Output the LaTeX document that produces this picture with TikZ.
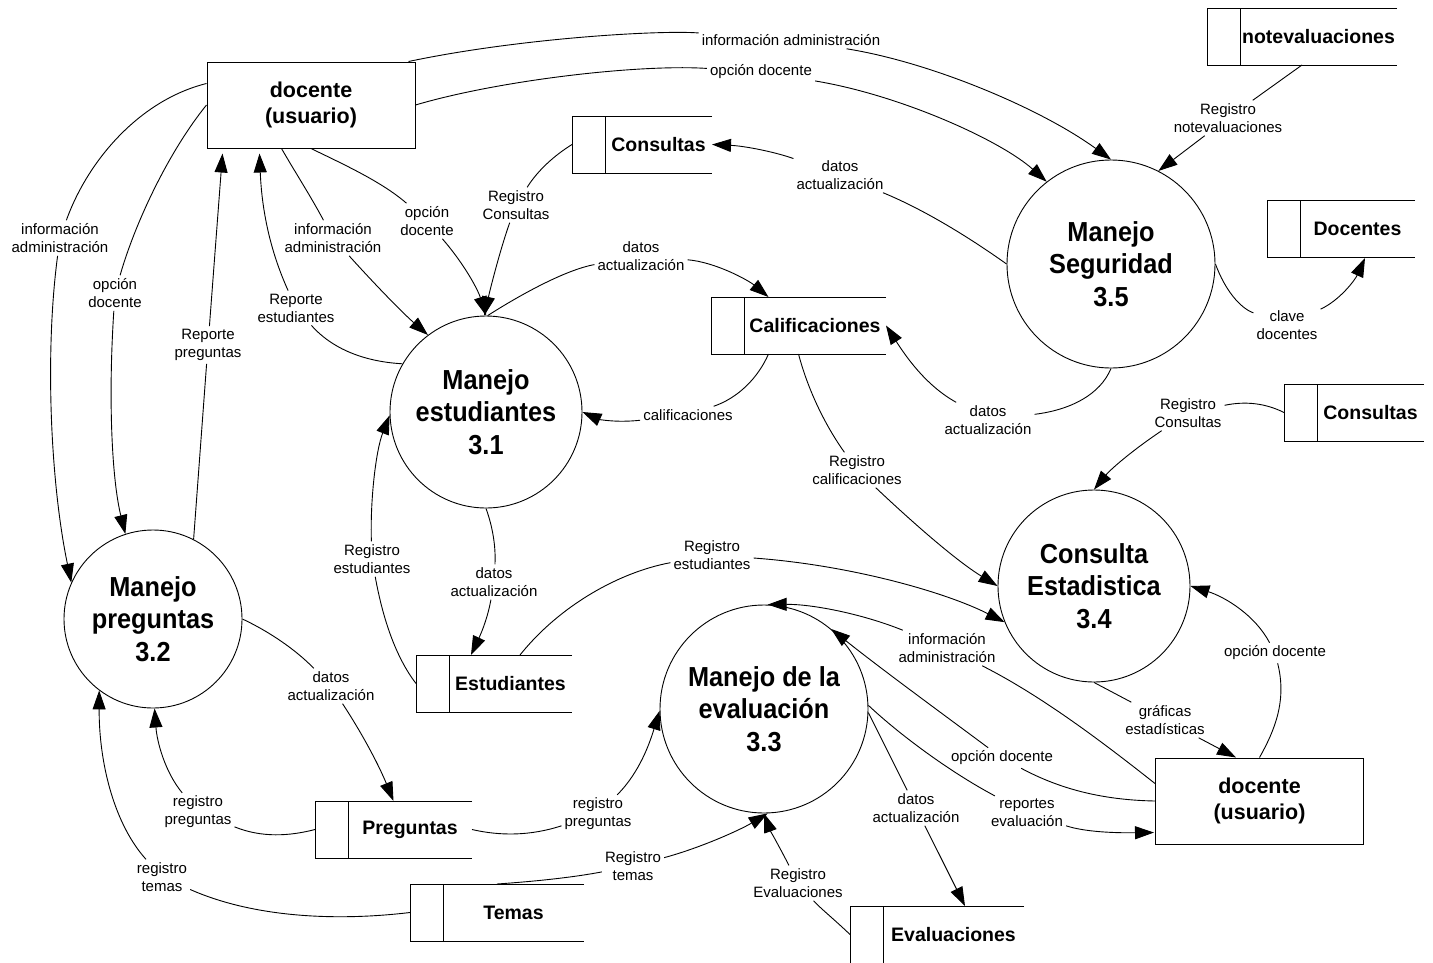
\documentclass[tikz,border=0pt]{standalone}
\usepackage{fontspec}
\setmainfont{Liberation Sans}
\newfontfamily\procfont[FakeStretch=0.92]{Liberation Sans}
\usetikzlibrary{arrows.meta,calc}

% data store: open-ended box with a divider, text right of the divider
% #1 name, #2 left x, #3 top y, #4 width, #5 text
\newcommand\dfdstore[5]{%
  \node[storebox,minimum width=#4pt] (#1) at ({#2+#4/2},{#3+28.5}) {};
  \draw[storeline] (#1.north east) -- (#1.north west) -- (#1.south west) -- (#1.south east);
  \draw[storeline] ($(#1.north west)+(33,0)$) -- ($(#1.south west)+(33,0)$);
  \node[storetext] (#1t) at ($(#1.center)+(16.5,0)$) {#5};
}

\begin{document}
\begin{tikzpicture}[x=1pt,y=-1pt,
  flow/.style={draw=black,line width=0.9pt},
  arr/.style={flow,-{Triangle[length=19pt,width=13pt]}},
  proc/.style={circle,draw=black,line width=0.9pt,inner sep=0pt,align=center,
    font=\procfont\bfseries\fontsize{27.5}{32.5}\selectfont},
  ext/.style={rectangle,draw=black,line width=1pt,minimum width=208pt,minimum height=86pt,
    inner sep=0pt,align=center,font=\bfseries\fontsize{21.5}{26.7}\selectfont},
  storebox/.style={rectangle,inner sep=0pt,outer sep=0pt,minimum height=57pt},
  storeline/.style={draw=black,line width=1pt},
  storetext/.style={font=\bfseries\fontsize{19.5}{23}\selectfont,inner sep=0pt},
  lbl/.style={align=center,inner sep=3pt,font=\fontsize{15}{18}\selectfont}]

\fill[white] (0,0) rectangle (1433,962);
\useasboundingbox (0,0) rectangle (1433,962);

% processes
\node[proc,minimum size=192pt] (c31) at (486,412) {Manejo\\estudiantes\\3.1};
\node[proc,minimum size=178pt] (c32) at (153,619) {Manejo\\preguntas\\3.2};
\node[proc,minimum size=208pt] (c33) at (764,709) {Manejo de la\\evaluación\\3.3};
\node[proc,minimum size=192pt] (c34) at (1094,586) {Consulta\\Estadistica\\3.4};
\node[proc,minimum size=208pt] (c35) at (1111,264) {Manejo\\Seguridad\\3.5};

% external entities
\node[ext] (d1) at (311,105) {docente\\(usuario)};
\node[ext] (d2) at (1259.5,801) {docente\\(usuario)};

% data stores
\dfdstore{cons1}{572}{116}{140}{Consultas}
\dfdstore{calif}{711}{297}{175}{Calificaciones}
\dfdstore{nev}{1207}{8}{190}{notevaluaciones}
\dfdstore{docs}{1267}{200}{148}{Docentes}
\dfdstore{cons2}{1284}{384}{140}{Consultas}
\dfdstore{est}{416}{655}{156}{Estudiantes}
\dfdstore{pregs}{315}{801}{157}{Preguntas}
\dfdstore{temas}{410}{884}{174}{Temas}
\dfdstore{eval}{850}{906}{174}{Evaluaciones}

% flow labels
\node[lbl] (l1) at (791,40) {información administración};
\node[lbl] (l2) at (761,72) {opción docente};
\node[lbl] (l3) at (840,175) {datos\\actualización};
\node[lbl] (l4) at (1228,118) {Registro\\notevaluaciones};
\node[lbl] (l5) at (1287,325) {clave\\docentes};
\node[lbl] (l6) at (988,420) {datos\\actualización};
\node[lbl] (l7) at (516,205) {Registro\\Consultas};
\node[lbl] (l8) at (641,256) {datos\\actualización};
\node[lbl] (l9) at (688,415) {calificaciones};
\node[lbl] (l10) at (857,470) {Registro\\calificaciones};
\node[lbl] (l11) at (1188,413) {Registro\\Consultas};
\node[lbl] (l12) at (1275,653) {opción docente};
\node[lbl] (l13) at (1165,720) {gráficas\\estadísticas};
\node[lbl] (l14) at (712,555) {Registro\\estudiantes};
\node[lbl] (l15) at (947,648) {información\\administración};
\node[lbl] (l16) at (1002,758) {opción docente};
\node[lbl] (l17) at (1027,813) {reportes\\evaluación};
\node[lbl] (l18) at (916,808) {datos\\actualización};
\node[lbl] (l19) at (798,883) {Registro\\Evaluaciones};
\node[lbl] (l20) at (633,866) {Registro\\temas};
\node[lbl] (l21) at (598,814) {registro\\preguntas};
\node[lbl] (l22) at (198,812) {registro\\preguntas};
\node[lbl] (l23) at (162,877) {registro\\temas};
\node[lbl] (l24) at (331,686) {datos\\actualización};
\node[lbl] (l25) at (372,559) {Registro\\estudiantes};
\node[lbl] (l26) at (494,582) {datos\\actualización};
\node[lbl] (l27) at (208,345) {Reporte\\preguntas};
\node[lbl] (l28) at (296,308) {Reporte\\estudiantes};
\node[lbl] (l29) at (333,238) {información\\administración};
\node[lbl] (l30) at (427,221) {opción\\docente};
\node[lbl] (l31) at (60,238) {información\\administración};
\node[lbl] (l32) at (115,293) {opción\\docente};

% flows into Manejo Seguridad and its stores
\draw[flow] ($(d1.north east)+(-7,0)$) .. controls (520,38) and (660,30) .. (l1);
\draw[arr] (l1) .. controls (930,62) and (1040,108) .. (c35.90);
\draw[flow] (d1.east) .. controls (500,80) and (640,64) .. (l2);
\draw[arr] (l2) .. controls (900,95) and (1000,140) .. (c35.128);
\draw[flow] (c35.180) .. controls (970,238) and (925,210) .. (l3);
\draw[arr] (l3) .. controls (775,152) and (745,146) .. (cons1.east);
\draw[flow] (nev.south) -- (l4);
\draw[arr] (l4) -- (c35.63);
\draw[flow] (c35.0) .. controls (1225,290) and (1240,308) .. (l5);
\draw[arr] (l5) .. controls (1340,300) and (1355,280) .. ($(docs.south)+(24,1)$);
\draw[flow] (c35.270) .. controls (1100,395) and (1070,410) .. (l6);
\draw[arr] (l6) .. controls (925,385) and (905,355) .. (calif.east);

% flows around Manejo estudiantes
\draw[flow] (cons1.west) .. controls (555,155) and (538,170) .. (l7);
\draw[arr] (l7) .. controls (500,250) and (490,290) .. (c31.91);
\draw[flow] (c31.89) .. controls (520,295) and (565,270) .. (l8);
\draw[arr] (l8) .. controls (715,262) and (748,280) .. ($(calif.north)+(-30,0)$);
\draw[flow] ($(calif.south)+(-30,0)$) .. controls (758,378) and (738,398) .. (l9);
\draw[arr] (l9) .. controls (615,423) and (598,419) .. (c31.0);
\draw[flow] (est.west) .. controls (398,660) and (384,625) .. (l25);
\draw[arr] (l25) .. controls (370,500) and (376,450) .. (c31.182);
\draw[flow] (c31.270) .. controls (492,525) and (496,545) .. (l26);
\draw[arr] (l26) .. controls (487,622) and (478,640) .. ($(est.north)+(-23,0)$);
\draw[flow] (c31.150) .. controls (370,362) and (335,352) .. (l28);
\draw[arr] (l28) .. controls (272,255) and (262,215) .. ($(d1.south west)+(53,5)$);
\draw[flow] ($(d1.south west)+(75,0)$) .. controls (295,172) and (310,195) .. (l29);
\draw[arr] (l29) .. controls (380,290) and (405,315) .. (c31.127);
\draw[flow] (d1.south) .. controls (345,165) and (382,182) .. (l30);
\draw[arr] (l30) .. controls (465,265) and (478,290) .. (c31.90);

% flows into Consulta Estadistica
\draw[flow] (calif.south) .. controls (808,390) and (825,425) .. (l10);
\draw[arr] (l10) .. controls (910,520) and (955,560) .. (c34.180);
\draw[flow] (cons2.west) .. controls (1265,403) and (1245,401) .. (l11);
\draw[arr] (l11) .. controls (1130,452) and (1110,470) .. (c34.90);
\draw[flow] (d2.north) .. controls (1275,730) and (1287,700) .. (l12);
\draw[arr] (l12) .. controls (1255,615) and (1225,597) .. (c34.0);
\draw[flow] (c34.270) -- (l13);
\draw[arr] (l13) -- ($(d2.north west)+(81,0)$);
\draw[flow] ($(est.north)+(26,0)$) .. controls (560,605) and (620,572) .. (l14);
\draw[arr] (l14) .. controls (850,565) and (945,592) .. (c34.202);

% flows around Manejo de la evaluacion
\draw[flow] ($(d2.north west)+(0,26)$) .. controls (1100,740) and (1040,695) .. (l15);
\draw[arr] (l15) .. controls (860,613) and (810,604) .. (c33.88);
\draw[flow] (d2.west) .. controls (1100,800) and (1058,788) .. (l16);
\draw[arr] (l16) .. controls (940,712) and (880,668) .. (c33.50);
\draw[flow] (c33.2) .. controls (900,735) and (950,772) .. (l17);
\draw[arr] (l17) .. controls (1085,832) and (1115,833) .. ($(d2.north west)+(-1,75)$);
\draw[flow] (c33.358) -- (l18);
\draw[arr] (l18) -- ($(eval.north)+(28,0)$);
\draw[flow] (eval.west) .. controls (835,920) and (820,908) .. (l19);
\draw[arr] (l19) .. controls (780,848) and (770,830) .. (c33.270);
\draw[flow] (temas.north) .. controls (540,881) and (575,877) .. (l20);
\draw[arr] (l20) .. controls (700,848) and (740,830) .. (c33.272);
\draw[flow] (pregs.east) .. controls (500,836) and (530,836) .. (l21);
\draw[arr] (l21) .. controls (640,772) and (650,742) .. (c33.181);

% flows around Manejo preguntas
\draw[flow] (pregs.west) .. controls (290,836) and (262,838) .. (l22);
\draw[arr] (l22) .. controls (165,772) and (157,742) .. (c32.271);
\draw[flow] (temas.west) .. controls (330,922) and (250,916) .. (l23);
\draw[arr] (l23) .. controls (115,825) and (99,765) .. (c32.233);
\draw[flow] (c32.0) .. controls (270,632) and (296,650) .. (l24);
\draw[arr] (l24) .. controls (365,738) and (380,768) .. (pregs.north);
\draw[flow] (c32.63) -- (l27);
\draw[arr] (l27) -- ($(d1.south west)+(16,5)$);
\draw[flow] ($(d1.north west)+(0,22)$) .. controls (140,100) and (88,160) .. (l31);
\draw[arr] (l31) .. controls (45,350) and (50,480) .. (c32.156);
\draw[flow] (d1.west) .. controls (170,150) and (136,220) .. (l32);
\draw[arr] (l32) .. controls (108,400) and (112,480) .. (c32.108);

\end{tikzpicture}
\end{document}
